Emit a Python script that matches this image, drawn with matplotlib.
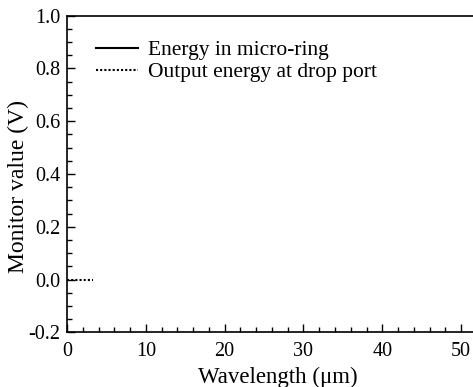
import matplotlib.pyplot as plt
from matplotlib.ticker import MultipleLocator

plt.rcParams['font.family'] = ['Liberation Serif', 'DejaVu Serif']
plt.rcParams['mathtext.fontset'] = 'stix'

# data
ring_x = []
ring_y = []
drop_x = [0, 3.3]
drop_y = [0.0, 0.0]

fig = plt.figure(figsize=(4.73, 3.87), dpi=100)
ax = fig.add_axes([0.1416, 0.1413, 0.8584, 0.8181])

ax.plot(ring_x, ring_y, color='black', lw=1.5, ls='-', label='Energy in micro-ring')
ax.plot(drop_x, drop_y, color='black', lw=1.5, ls=(0, (1, 1)), label='Output energy at drop port')

ax.set_xlim(0, 51.5)
ax.set_ylim(-0.2, 1.0)
ax.xaxis.set_major_locator(MultipleLocator(10))
ax.xaxis.set_minor_locator(MultipleLocator(2))
ax.yaxis.set_minor_locator(MultipleLocator(0.05))
ax.set_yticks([-0.2, 0.0, 0.2, 0.4, 0.6, 0.8, 1.0])
ax.set_yticklabels(['-0.2', '0.0', '0.2', '0.4', '0.6', '0.8', '1.0'])
ax.tick_params(which='both', direction='in', labelsize=14.5, right=False, top=False)
ax.tick_params(which='major', length=6, width=1)
ax.tick_params(which='minor', length=3.5, width=1)
ax.tick_params(axis='x', which='major', pad=7)
ax.tick_params(axis='y', which='major', pad=4.5)
ax.spines['right'].set_visible(False)
for s in ['left', 'bottom', 'top']:
    ax.spines[s].set_linewidth(1.2)

ax.set_xlabel('Wavelength (μm)', fontsize=16.5, labelpad=4, x=0.52)
ax.set_ylabel('Monitor value (V)', fontsize=17, labelpad=0, y=0.459)

ax.legend(loc='upper left', bbox_to_anchor=(0.071, 0.922), frameon=False, fontsize=15.5,
          handlelength=1.95, handletextpad=0.47, labelspacing=0.09, borderaxespad=0,
          borderpad=0)

fig.savefig('out.png', dpi=100)
